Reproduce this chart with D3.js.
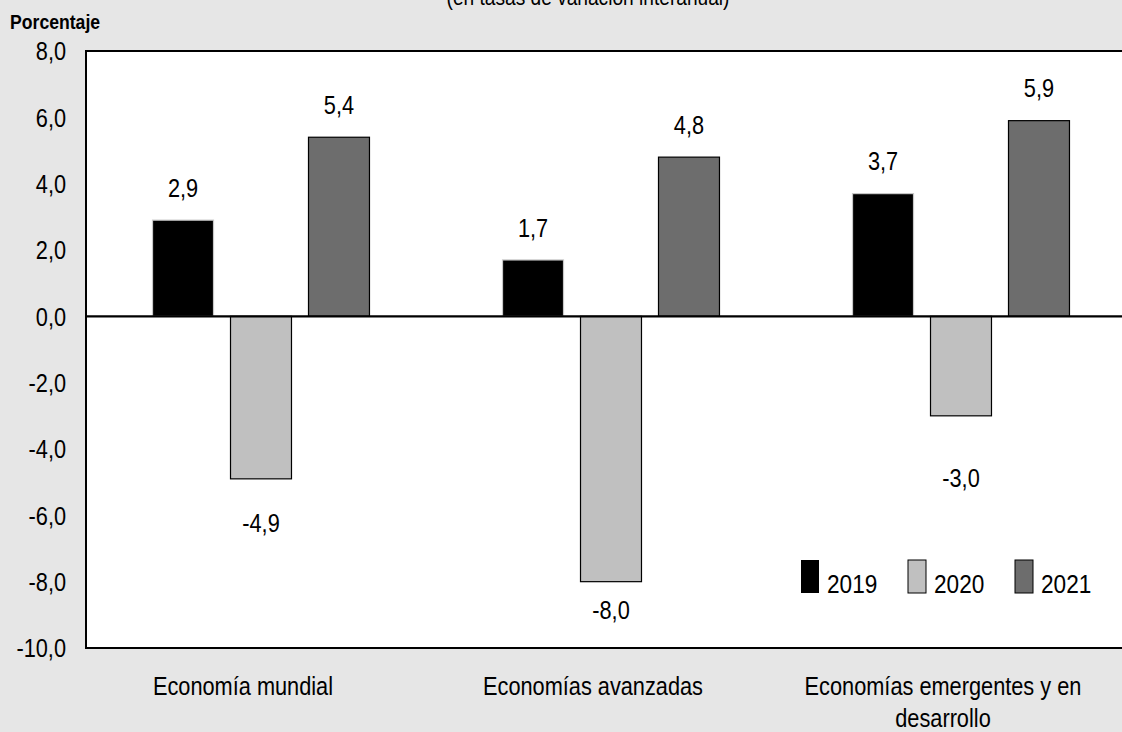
<!DOCTYPE html>
<html>
<head>
<meta charset="utf-8">
<script src="https://cdn.jsdelivr.net/npm/d3@7"></script>
<style>
  html, body { margin: 0; padding: 0; background: #e6e6e6; }
  svg { display: block; }
  text { font-family: "Liberation Sans Narrow", "Arial Narrow", "Liberation Sans", Arial, sans-serif; fill: #000; }
</style>
</head>
<body>
<svg id="chart" width="1122" height="732"></svg>
<script>
// ---- data ----
const categories = ["Economía mundial", "Economías avanzadas", "Economías emergentes y en desarrollo"];
const years = ["2019", "2020", "2021"];
const values2019 = [2.9, 1.7, 3.7];
const values2020 = [-4.9, -8.0, -3.0];
const values2021 = [5.4, 4.8, 5.9];
const yTicks = [8, 6, 4, 2, 0, -2, -4, -6, -8, -10];
const yLabel = "Porcentaje";
const title = "(en tasas de variación interanual)";

const series = [values2019, values2020, values2021];
const colors = { "2019": "#000000", "2020": "#c0c0c0", "2021": "#6d6d6d" };
const strokes = { "2019": "#c8c8c8", "2020": "#000000", "2021": "#000000" };

(function () {
const svg = d3.select("#chart");
const W = 1122;
const mLeft = 86, mTop = 51, mBottom = 648, mRight = 1136;
const SX = 0.87; // horizontal condensing to mimic a narrow typeface

const fmt = d => d3.format(".1f")(d).replace(".", ",").replace("\u2212", "-");

const y = d3.scaleLinear().domain([-10, 8]).range([mBottom, mTop]);
const x0 = d3.scaleBand().domain(categories).range([mLeft, mRight]).paddingInner(0).paddingOuter(0);
const x1 = d3.scaleBand().domain(years).range([0, x0.bandwidth()]).paddingInner(0.218).paddingOuter(0.853);

// title (cut off at top, as in the reference)
svg.append("text").attr("x", 588).attr("y", 5).attr("text-anchor", "middle")
  .attr("data-sx", SX).style("font-size", "22px").text(title);

// plot area
svg.append("rect").attr("x", mLeft).attr("y", mTop).attr("width", W + 10 - mLeft).attr("height", mBottom - mTop)
  .attr("fill", "#ffffff").attr("stroke", "#000").attr("stroke-width", 2);

// y axis label
svg.append("text").attr("x", 10).attr("y", 29).attr("data-sx", 0.84)
  .style("font-size", "21px").style("font-weight", "bold").text(yLabel);

// y tick labels
const yAxis = d3.axisLeft(y).tickValues(yTicks).tickSize(0).tickPadding(20).tickFormat(fmt);
const gy = svg.append("g").attr("transform", `translate(${mLeft},0)`).call(yAxis);
gy.attr("font-family", null).attr("font-size", null);
gy.select(".domain").remove();
gy.selectAll("text").style("font-size", "25px").attr("dy", "0.35em").attr("data-sx", SX);

// bars
const data = [];
categories.forEach((c, i) => years.forEach((yr, j) => data.push({ cat: c, year: yr, value: series[j][i], idx: i })));

svg.append("g").selectAll("rect").data(data).enter().append("rect")
  .attr("x", d => x0(d.cat) + x1(d.year))
  .attr("width", x1.bandwidth())
  .attr("y", d => y(Math.max(0, d.value)))
  .attr("height", d => Math.abs(y(d.value) - y(0)))
  .attr("fill", d => colors[d.year])
  .attr("stroke", d => strokes[d.year])
  .attr("stroke-width", 1.2);

// zero line
svg.append("line").attr("x1", mLeft).attr("x2", W).attr("y1", y(0)).attr("y2", y(0))
  .attr("stroke", "#000").attr("stroke-width", 2.2);

// value labels
const negNudge = [44, 29, 62];
svg.append("g").selectAll("text").data(data).enter().append("text")
  .attr("x", d => x0(d.cat) + x1(d.year) + x1.bandwidth() / 2)
  .attr("y", d => d.value >= 0 ? y(d.value) - 32 : y(d.value) + negNudge[d.idx])
  .attr("dy", "0.35em")
  .attr("text-anchor", "middle")
  .attr("data-sx", SX)
  .style("font-size", "25px")
  .text(d => fmt(d.value));

// category labels
const catG = svg.append("g");
const catLines = [["Economía mundial"], ["Economías avanzadas"], ["Economías emergentes y en", "desarrollo"]];
categories.forEach((c, i) => {
  const cx = x0(c) + x0.bandwidth() / 2 - 18;
  const t = catG.append("text").attr("x", cx).attr("text-anchor", "middle").attr("data-sx", SX).style("font-size", "25px");
  catLines[i].forEach((ln, k) => {
    t.append("tspan").attr("x", cx).attr("y", 695 + k * 32).text(ln);
  });
});

// legend
const legX = [801, 908, 1015];
const lg = svg.append("g");
years.forEach((yr, j) => {
  lg.append("rect").attr("x", legX[j]).attr("y", 560).attr("width", 18).attr("height", 33)
    .attr("fill", colors[yr]).attr("stroke", j === 0 ? "none" : "#000").attr("stroke-width", 1);
  lg.append("text").attr("x", legX[j] + 26).attr("y", 593).attr("data-sx", SX)
    .style("font-size", "26px").text(yr);
});

// condense text horizontally around its anchor x
svg.selectAll("text[data-sx]").each(function () {
  const el = d3.select(this);
  const sx = +el.attr("data-sx");
  const X = +el.attr("x") || 0;
  el.attr("transform", `translate(${X * (1 - sx)},0) scale(${sx},1)`);
});
})();
</script>
</body>
</html>
